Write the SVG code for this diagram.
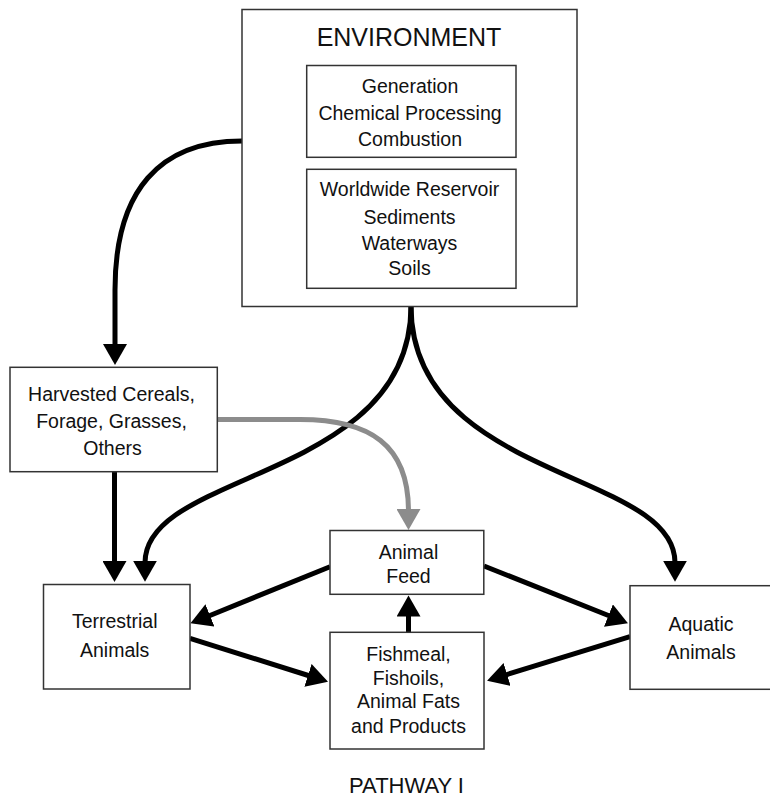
<svg xmlns="http://www.w3.org/2000/svg" width="770" height="799" viewBox="0 0 770 799">
  <style>
    .box { fill: #ffffff; stroke: #333333; stroke-width: 1.5; }
    .lbl { font-family: "Liberation Sans", Arial, Helvetica, sans-serif; font-size: 19.5px; fill: #111111; text-anchor: middle; }
    .title { font-size: 25px; }
    .flow { fill: none; stroke: #000000; stroke-width: 5; marker-end: url(#head); }
    .feedflow { fill: none; stroke: #8c8c8c; stroke-width: 5; marker-end: url(#headGray); }
  </style>
  <defs>
    <marker id="head" markerUnits="userSpaceOnUse" markerWidth="22" markerHeight="24" viewBox="0 0 22 24" refX="2" refY="12" orient="auto">
      <path d="M0,0 L21,12 L0,24 z" fill="#000000"/>
    </marker>
    <marker id="headGray" markerUnits="userSpaceOnUse" markerWidth="22" markerHeight="24" viewBox="0 0 22 24" refX="2" refY="12" orient="auto">
      <path d="M0,0 L21,12 L0,24 z" fill="#8c8c8c"/>
    </marker>
  </defs>

  <rect width="770" height="799" fill="#ffffff"/>

  <!-- connectors -->
  <g id="connectors">
    <path class="flow" d="M242,141 C160,141 115,190 115,290 L115,346"/>
    <path class="flow" d="M411,306 C411,480 145,470 145,562.7"/>
    <path class="flow" d="M411,306 C411,480 675,470 675,562.7"/>
    <path class="feedflow" d="M217,419.5 L300,419.5 C370,419.5 408.5,445 408.5,511"/>
    <path class="flow" d="M114.5,472 L114.5,563"/>
    <path class="flow" d="M330,566.7 L208.1,616.2"/>
    <path class="flow" d="M484,566 L610.3,616.3"/>
    <path class="flow" d="M190,638.3 L309.9,676"/>
    <path class="flow" d="M630,636.7 L505.2,675.1"/>
    <path class="flow" d="M408.5,632 L408.5,614.5"/>
  </g>

  <!-- environment with its two inner panels -->
  <g id="environment">
    <rect class="box" x="242" y="9.5" width="335" height="297"/>
    <text class="lbl title" x="409" y="45.5">ENVIRONMENT</text>
  </g>
  <g id="sources">
    <rect class="box" x="306.7" y="65.5" width="209.3" height="91.8"/>
    <text class="lbl" x="410" y="92.5">Generation</text>
    <text class="lbl" x="410" y="120">Chemical Processing</text>
    <text class="lbl" x="410" y="145.7">Combustion</text>
  </g>
  <g id="reservoir">
    <rect class="box" x="306.7" y="169.3" width="209.3" height="119"/>
    <text class="lbl" x="409.5" y="196">Worldwide Reservoir</text>
    <text class="lbl" x="409.5" y="224.3">Sediments</text>
    <text class="lbl" x="409.5" y="250">Waterways</text>
    <text class="lbl" x="409.5" y="275">Soils</text>
  </g>

  <g id="harvested">
    <rect class="box" x="10" y="367.3" width="207.3" height="104.4"/>
    <text class="lbl" x="111.5" y="401">Harvested Cereals,</text>
    <text class="lbl" x="111.5" y="427.7">Forage, Grasses,</text>
    <text class="lbl" x="112.5" y="455">Others</text>
  </g>

  <g id="animal-feed">
    <rect class="box" x="330" y="530.5" width="153.8" height="63.8"/>
    <text class="lbl" x="408.5" y="559">Animal</text>
    <text class="lbl" x="408.5" y="582.7">Feed</text>
  </g>

  <g id="terrestrial">
    <rect class="box" x="43.5" y="584.5" width="146.5" height="104.5"/>
    <text class="lbl" x="114.7" y="627.7">Terrestrial</text>
    <text class="lbl" x="114.7" y="656.7">Animals</text>
  </g>

  <g id="aquatic">
    <rect class="box" x="630" y="585.7" width="150" height="103.6"/>
    <text class="lbl" x="701" y="631">Aquatic</text>
    <text class="lbl" x="701" y="659">Animals</text>
  </g>

  <g id="fishmeal">
    <rect class="box" x="330" y="632.3" width="154" height="116.7"/>
    <text class="lbl" x="408.5" y="661">Fishmeal,</text>
    <text class="lbl" x="408.5" y="685">Fishoils,</text>
    <text class="lbl" x="408.5" y="708.3">Animal Fats</text>
    <text class="lbl" x="408.5" y="733.3">and Products</text>
  </g>

  <text class="lbl" x="406.5" y="793" style="font-size:22px">PATHWAY I</text>
</svg>
